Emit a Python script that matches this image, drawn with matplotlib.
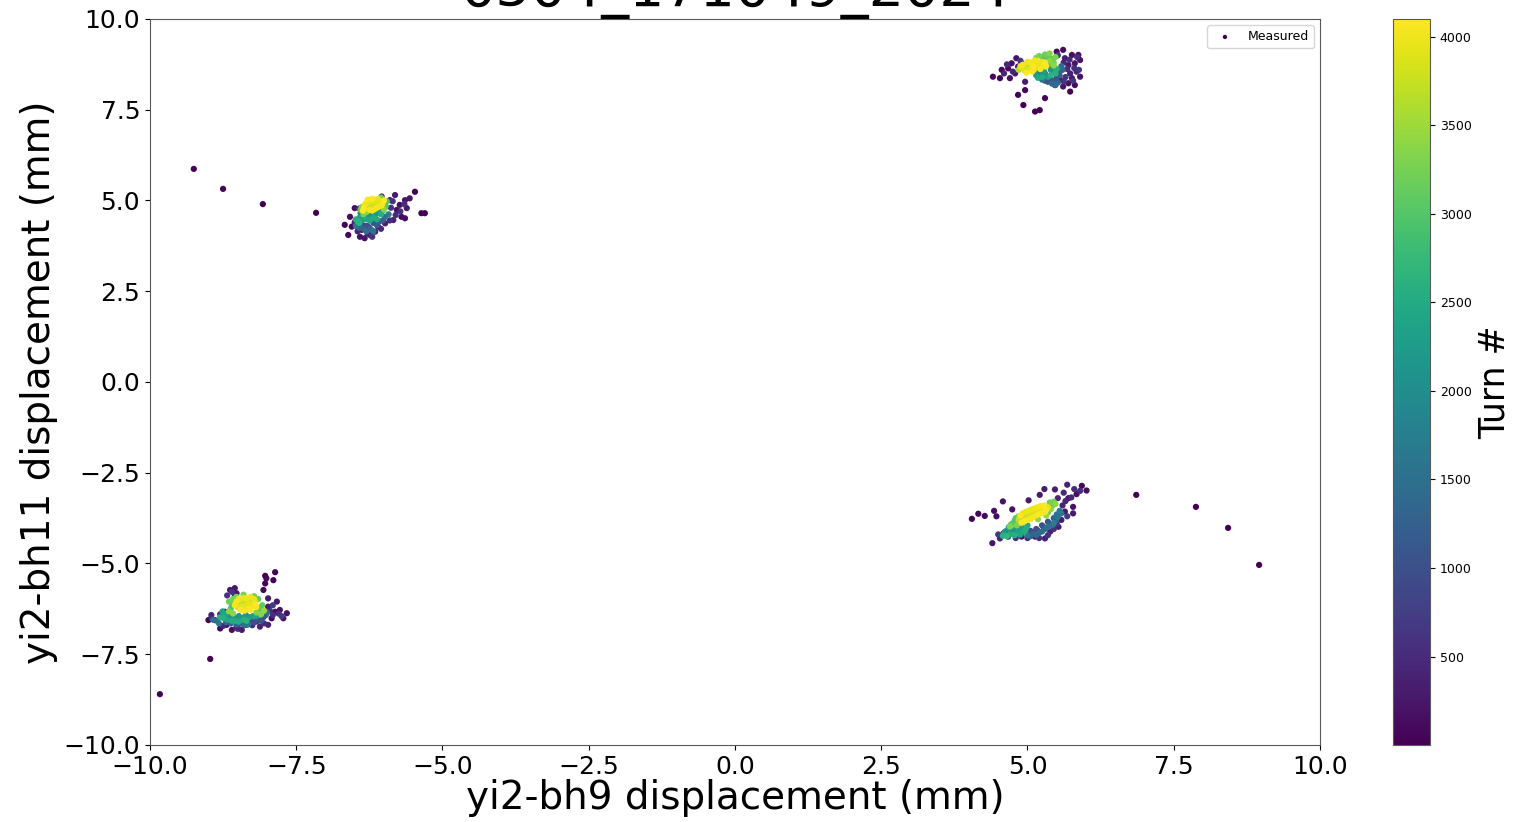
import numpy as np
import matplotlib
matplotlib.use("Agg")
import matplotlib.pyplot as plt

# (x mm, y mm, turn #), one list per cluster
cluster_top_right = [
    # early turns, outer halo
    (4.41, 8.41, 40), (4.53, 8.37, 60), (4.56, 8.60, 90), (4.67, 8.64, 120), (4.70, 8.37, 150),
    (4.73, 8.78, 180), (4.81, 8.92, 210), (4.84, 8.69, 240), (4.79, 8.50, 270), (4.90, 8.78, 300),
    (4.96, 8.27, 330), (4.84, 7.91, 30), (4.96, 8.04, 70), (4.93, 7.63, 20), (5.13, 7.45, 10),
    (5.21, 7.49, 15), (5.30, 7.82, 50), (5.50, 9.10, 110), (5.61, 9.15, 130), (5.76, 9.01, 160),
    (5.87, 9.01, 190), (5.90, 8.87, 220), (5.81, 8.78, 250), (5.70, 8.73, 280), (5.64, 8.92, 310),
    (5.58, 8.60, 340), (5.73, 8.50, 370), (5.84, 8.55, 400), (5.90, 8.41, 200), (5.76, 8.37, 260),
    (5.81, 8.18, 140), (5.70, 8.23, 170), (5.73, 8.00, 80), (5.61, 8.14, 230), (5.56, 8.32, 290),
    (5.47, 8.18, 350), (4.60, 8.50, 420), (4.75, 8.55, 440), (4.65, 8.75, 460), (5.62, 8.80, 480),
    (5.68, 8.62, 500), (5.80, 8.65, 520), (5.72, 8.88, 540), (5.85, 8.95, 560), (5.65, 8.40, 580),
    (5.62, 8.28, 600), (5.78, 8.30, 620), (5.88, 8.60, 640), (5.52, 9.00, 660), (4.88, 8.85, 680),
    # blue
    (5.40, 8.33, 900), (5.50, 8.38, 1000), (5.30, 8.30, 1100), (5.55, 8.55, 1200),
    (5.52, 8.25, 1300), (5.42, 8.22, 1400), (5.58, 8.70, 1500), (5.35, 8.27, 1050),
    (5.45, 8.30, 1150), (5.55, 8.45, 1250), (5.60, 8.60, 1350), (5.48, 8.18, 1450),
    (5.25, 8.33, 1550),
    # teal
    (5.20, 8.55, 1900), (5.30, 8.50, 2000), (5.40, 8.60, 2100), (5.15, 8.45, 2200),
    (5.35, 8.40, 2300), (5.45, 8.68, 2400), (5.25, 8.40, 2500), (5.48, 8.50, 2600),
    (5.22, 8.48, 1950), (5.32, 8.45, 2050), (5.42, 8.55, 2150), (5.38, 8.70, 2250),
    (5.28, 8.58, 2350), (5.18, 8.38, 2450), (5.50, 8.62, 2550), (5.40, 8.45, 2650),
    # green
    (5.25, 8.95, 2900), (5.35, 8.98, 3000), (5.42, 8.90, 3100), (5.30, 9.02, 3200),
    (5.45, 8.80, 3250), (5.15, 8.93, 3300), (5.38, 8.85, 3400), (5.28, 8.90, 2950),
    (5.35, 8.92, 3050), (5.40, 8.78, 3150), (5.20, 8.98, 3230), (5.48, 8.95, 3280),
    (5.38, 9.05, 3350), (5.45, 8.72, 3420), (5.30, 8.68, 3450),
    # yellow core
    (4.90, 8.65, 3700), (5.00, 8.70, 3750), (5.10, 8.75, 3800), (5.20, 8.80, 3850),
    (4.95, 8.58, 3900), (5.05, 8.62, 3920), (5.15, 8.67, 3950), (5.25, 8.72, 3980),
    (5.00, 8.82, 4000), (5.12, 8.86, 4020), (4.92, 8.74, 4040), (5.22, 8.62, 4060),
    (5.30, 8.80, 4080), (5.08, 8.55, 4090), (4.95, 8.66, 3720), (5.05, 8.73, 3770),
    (5.15, 8.78, 3820), (5.25, 8.82, 3870), (5.02, 8.60, 3910), (5.12, 8.62, 3940),
    (5.20, 8.70, 3970), (4.88, 8.70, 3990), (5.05, 8.80, 4010), (5.18, 8.85, 4030),
    (5.28, 8.75, 4050), (4.98, 8.52, 4070), (5.10, 8.70, 4085), (5.32, 8.70, 4095),
    (4.85, 8.60, 3650),
]

cluster_upper_left = [
    (-9.25, 5.87, 2), (-8.75, 5.32, 6), (-8.07, 4.90, 10), (-7.16, 4.66, 14),
    (-6.67, 4.33, 40), (-6.61, 4.05, 60), (-6.55, 4.28, 90), (-6.58, 4.55, 120), (-6.50, 4.79, 150),
    (-6.41, 4.00, 180), (-6.33, 3.96, 210), (-6.38, 4.19, 240), (-6.24, 4.05, 270), (-6.15, 4.14, 300),
    (-6.10, 4.28, 330), (-5.98, 4.37, 360), (-5.84, 4.46, 390), (-5.70, 4.55, 110), (-5.64, 4.51, 130),
    (-5.78, 4.74, 160), (-5.73, 4.88, 190), (-5.64, 5.01, 220), (-5.56, 5.06, 250), (-5.47, 5.24, 30),
    (-5.61, 4.79, 280), (-5.36, 4.65, 20), (-5.30, 4.65, 25), (-5.81, 5.15, 310), (-5.90, 5.01, 340),
    (-6.04, 5.11, 370), (-6.27, 5.01, 400), (-6.45, 4.15, 420), (-6.50, 4.40, 440), (-6.28, 4.08, 460),
    (-6.05, 4.22, 480), (-5.90, 4.45, 500), (-5.80, 4.60, 520), (-5.72, 4.70, 540), (-5.65, 4.90, 560),
    (-5.88, 4.80, 580), (-6.42, 4.78, 600), (-6.20, 4.00, 620), (-5.85, 4.98, 640),
    # blue
    (-6.38, 4.35, 900), (-6.28, 4.30, 1000), (-6.18, 4.38, 1100), (-6.08, 4.42, 1200),
    (-6.35, 4.22, 1300), (-6.22, 4.20, 1400), (-5.98, 4.55, 1500), (-6.48, 4.30, 1600),
    (-5.92, 4.62, 1700), (-6.32, 4.30, 950), (-6.25, 4.25, 1050), (-6.12, 4.32, 1150),
    (-6.02, 4.45, 1250), (-6.42, 4.25, 1350), (-6.30, 4.15, 1450), (-6.18, 4.15, 1550),
    # teal
    (-6.40, 4.65, 1900), (-6.32, 4.58, 2000), (-6.22, 4.60, 2100), (-6.12, 4.65, 2200),
    (-6.02, 4.72, 2300), (-6.42, 4.52, 2400), (-6.30, 4.48, 2450), (-6.18, 4.52, 2500),
    (-6.05, 4.62, 2550), (-6.45, 4.42, 2600), (-6.36, 4.55, 1950), (-6.26, 4.56, 2050),
    (-6.16, 4.58, 2150), (-6.08, 4.66, 2250), (-6.38, 4.46, 2350), (-6.24, 4.45, 2420),
    (-6.12, 4.48, 2480), (-6.48, 4.48, 2580), (-6.42, 4.38, 2650),
    # green
    (-6.00, 4.90, 2900), (-5.95, 4.98, 3000), (-5.98, 4.80, 3100), (-6.05, 5.08, 3200),
    (-6.38, 4.82, 3300), (-6.30, 4.68, 3400), (-5.97, 4.85, 2950), (-6.02, 5.02, 3050),
    (-6.40, 4.74, 3150), (-6.35, 4.62, 3250), (-6.00, 4.75, 3350),
    # yellow core
    (-6.30, 4.78, 3700), (-6.22, 4.84, 3750), (-6.14, 4.90, 3800), (-6.06, 4.96, 3850),
    (-6.25, 4.95, 3900), (-6.17, 5.00, 3920), (-6.10, 5.04, 3950), (-6.33, 4.88, 3980),
    (-6.20, 4.72, 4000), (-6.12, 4.80, 4020), (-6.04, 4.86, 4040), (-6.28, 5.02, 4060),
    (-6.36, 4.72, 4080), (-6.00, 5.00, 4090), (-6.26, 4.81, 3720), (-6.18, 4.87, 3770),
    (-6.10, 4.93, 3820), (-6.02, 4.92, 3870), (-6.21, 4.98, 3910), (-6.14, 5.02, 3940),
    (-6.30, 4.93, 3970), (-6.16, 4.76, 4010), (-6.08, 4.84, 4030), (-6.24, 4.74, 4050),
    (-6.34, 4.80, 4070), (-6.20, 5.05, 4095),
]

cluster_lower_left = [
    (-9.83, -8.60, 1), (-8.97, -7.63, 5),
    (-9.00, -6.56, 40), (-8.89, -6.56, 60), (-8.80, -6.79, 90), (-8.69, -6.69, 120), (-8.60, -6.83, 150),
    (-8.72, -6.33, 180), (-8.63, -5.73, 210), (-8.55, -5.68, 240), (-8.52, -5.82, 270), (-8.43, -6.83, 300),
    (-8.35, -6.69, 330), (-8.12, -6.74, 360), (-7.98, -6.69, 390), (-7.92, -6.51, 110), (-7.86, -6.33, 130),
    (-7.78, -6.28, 160), (-7.66, -6.37, 190), (-7.72, -6.51, 220), (-7.83, -6.05, 250), (-7.98, -5.96, 280),
    (-7.98, -6.19, 310), (-8.06, -5.73, 70), (-8.03, -5.55, 45), (-8.01, -5.41, 35), (-7.89, -5.46, 25),
    (-7.86, -5.24, 18), (-8.03, -5.34, 28), (-8.18, -6.60, 340), (-8.52, -6.74, 370), (-8.95, -6.42, 400),
    (-8.95, -6.50, 420), (-8.75, -6.72, 440), (-8.50, -6.80, 460), (-8.25, -6.70, 480), (-8.05, -6.65, 500),
    (-7.90, -6.42, 520), (-7.80, -6.38, 540), (-7.95, -6.30, 560), (-8.60, -5.78, 580), (-8.55, -5.90, 600),
    (-8.68, -5.88, 620), (-8.80, -6.40, 640), (-7.75, -6.45, 660), (-7.90, -6.15, 680),
    # blue
    (-8.28, -6.58, 900), (-8.16, -6.55, 1000), (-8.06, -6.48, 1100), (-8.62, -6.65, 1200),
    (-8.45, -6.66, 1300), (-8.85, -6.58, 1400), (-8.00, -6.35, 1500), (-8.32, -6.68, 1600),
    (-8.22, -6.62, 950), (-8.10, -6.58, 1050), (-8.02, -6.42, 1150), (-8.70, -6.62, 1250),
    (-8.52, -6.68, 1350), (-8.38, -6.70, 1450), (-8.92, -6.55, 1550), (-8.82, -6.65, 1650),
    # teal
    (-8.70, -6.40, 1900), (-8.60, -6.48, 2000), (-8.48, -6.45, 2100), (-8.36, -6.42, 2200),
    (-8.24, -6.45, 2300), (-8.76, -6.32, 2400), (-8.68, -6.55, 2450), (-8.54, -6.58, 2500),
    (-8.40, -6.55, 2550), (-8.80, -6.48, 2600), (-8.65, -6.45, 1950), (-8.55, -6.50, 2050),
    (-8.42, -6.50, 2150), (-8.30, -6.48, 2250), (-8.18, -6.45, 2350), (-8.72, -6.40, 2420),
    (-8.60, -6.58, 2480), (-8.48, -6.60, 2530), (-8.75, -6.50, 2580), (-8.35, -6.58, 2650),
    # green
    (-8.62, -6.25, 2900), (-8.15, -6.30, 3000), (-8.08, -6.15, 3100), (-8.65, -6.05, 3200),
    (-8.22, -5.90, 3250), (-8.52, -5.92, 3300), (-8.10, -6.40, 3350), (-8.58, -6.38, 3400),
    (-8.60, -6.15, 2950), (-8.12, -6.22, 3050), (-8.15, -5.98, 3150), (-8.58, -5.98, 3220),
    (-8.40, -5.86, 3280), (-8.18, -6.35, 3320), (-8.65, -6.32, 3380), (-8.05, -6.30, 3450),
    # yellow core
    (-8.50, -6.10, 3700), (-8.40, -6.05, 3750), (-8.30, -6.00, 3800), (-8.20, -6.05, 3850),
    (-8.45, -6.20, 3900), (-8.35, -6.15, 3920), (-8.25, -6.18, 3950), (-8.40, -5.95, 3980),
    (-8.28, -5.92, 4000), (-8.55, -6.15, 4020), (-8.18, -6.20, 4040), (-8.32, -6.25, 4060),
    (-8.45, -6.28, 4090), (-8.45, -6.02, 3720), (-8.35, -6.08, 3770), (-8.25, -6.10, 3820),
    (-8.50, -6.20, 3870), (-8.40, -6.22, 3910), (-8.30, -6.12, 3940), (-8.22, -5.98, 3970),
    (-8.35, -5.96, 4010), (-8.48, -5.98, 4030), (-8.52, -6.05, 4050), (-8.20, -6.12, 4070),
    (-8.38, -6.30, 4080), (-8.28, -6.28, 4095),
]

cluster_lower_right = [
    (8.96, -5.04, 3), (8.43, -4.02, 7), (7.88, -3.44, 11), (6.86, -3.11, 15),
    (4.05, -3.77, 40), (4.16, -3.63, 60), (4.27, -3.69, 90), (4.43, -3.55, 120), (4.47, -3.70, 150),
    (4.74, -3.51, 180), (4.58, -3.29, 210), (4.40, -4.44, 240), (5.02, -3.26, 270), (5.21, -3.11, 300),
    (5.29, -2.95, 330), (5.47, -2.96, 360), (5.68, -2.83, 390), (5.93, -2.86, 110), (6.01, -2.99, 130),
    (5.84, -3.09, 160), (5.70, -3.20, 190), (5.78, -3.44, 220), (5.64, -3.57, 250), (5.78, -3.62, 280),
    (5.58, -3.80, 310), (5.53, -3.99, 340), (5.39, -4.12, 370), (5.30, -4.31, 400), (5.13, -4.26, 200),
    (4.90, -4.26, 260), (4.67, -4.26, 320), (4.53, -4.31, 380), (4.59, -4.17, 230),
    (5.60, -3.40, 420), (5.65, -3.28, 440), (5.75, -3.18, 460), (5.52, -3.20, 480), (5.62, -3.05, 500),
    (5.80, -2.95, 520), (5.90, -3.00, 540), (5.45, -4.05, 560), (5.35, -4.22, 580), (5.20, -4.30, 600),
    (5.00, -4.30, 620), (4.80, -4.30, 640), (5.50, -3.90, 660), (5.68, -3.70, 680), (4.50, -4.20, 700),
    # blue
    (5.05, -4.10, 900), (5.15, -4.05, 950), (5.25, -3.95, 1000), (5.35, -3.85, 1100),
    (5.45, -3.75, 1200), (5.10, -4.18, 1250), (5.20, -4.15, 1300), (5.30, -4.05, 1400),
    (5.42, -3.95, 1500), (5.50, -3.65, 1550), (5.00, -4.22, 1600), (5.55, -3.55, 1700),
    (5.08, -4.14, 920), (5.18, -4.10, 980), (5.28, -4.00, 1050), (5.38, -3.90, 1150),
    (5.48, -3.82, 1220), (5.05, -4.25, 1280), (5.15, -4.22, 1350), (5.25, -4.12, 1450),
    (5.35, -4.00, 1520), (5.52, -3.72, 1580), (5.58, -3.62, 1650), (5.45, -3.88, 1720),
    # teal
    (4.65, -4.10, 1900), (4.72, -4.15, 2000), (4.80, -4.05, 2100), (4.90, -4.00, 2200),
    (4.60, -4.18, 2250), (4.85, -4.15, 2300), (5.00, -3.95, 2400), (4.68, -4.00, 2450),
    (4.95, -4.12, 2500), (4.78, -4.22, 2600), (4.62, -4.12, 1950), (4.70, -4.08, 2050),
    (4.76, -4.12, 2150), (4.84, -4.08, 2280), (4.92, -4.06, 2350), (4.88, -4.20, 2420),
    (4.70, -4.20, 2480), (4.98, -4.03, 2550), (4.58, -4.24, 2620), (4.65, -4.25, 2680),
    # green
    (4.75, -3.90, 2900), (4.80, -3.75, 3000), (5.40, -3.38, 3100), (5.45, -3.30, 3200),
    (5.35, -3.60, 3250), (4.70, -3.98, 3300), (5.18, -3.78, 3350), (5.40, -3.50, 3400),
    (4.78, -3.82, 2950), (4.72, -3.92, 3050), (5.42, -3.42, 3150), (5.38, -3.32, 3220),
    (4.85, -3.70, 3280), (4.82, -3.95, 3320), (5.48, -3.36, 3380), (5.32, -3.68, 3450),
    # yellow core
    (4.85, -3.80, 3700), (4.95, -3.72, 3750), (5.05, -3.66, 3800), (5.15, -3.58, 3850),
    (5.25, -3.50, 3900), (5.35, -3.45, 3920), (4.92, -3.62, 3950), (5.02, -3.55, 3980),
    (5.12, -3.48, 4000), (5.22, -3.42, 4020), (5.00, -3.80, 4040), (5.10, -3.72, 4060),
    (5.20, -3.64, 4070), (5.30, -3.58, 4080), (4.90, -3.88, 4085), (5.28, -3.40, 4090),
    (4.90, -3.76, 3720), (5.00, -3.69, 3770), (5.10, -3.62, 3820), (5.20, -3.54, 3870),
    (5.30, -3.48, 3910), (4.97, -3.58, 3940), (5.07, -3.51, 3970), (5.17, -3.45, 4010),
    (5.05, -3.77, 4030), (5.15, -3.68, 4050), (5.25, -3.61, 4075), (4.88, -3.68, 4088),
    (5.32, -3.52, 4093), (4.95, -3.84, 4095),
]

title = "0504_171049_2024"
n_turns = 4100

pts = np.array(cluster_top_right + cluster_upper_left + cluster_lower_left + cluster_lower_right)
order = np.argsort(pts[:, 2], kind="stable")  # later turns drawn on top
x, y, turn = pts[order, 0], pts[order, 1], pts[order, 2]

fig = plt.figure(figsize=(15.13, 8.22), dpi=100)
ax = fig.add_axes([0.0991, 0.0937, 0.7733, 0.8832])
cax = fig.add_axes([0.9207, 0.0937, 0.0245, 0.8832])

sc = ax.scatter(x, y, c=turn, cmap="viridis", vmin=1, vmax=n_turns, s=20,
                linewidths=0, label="Measured")
ax.set_xlim(-10, 10)
ax.set_ylim(-10, 10)
ax.set_xlabel("yi2-bh9 displacement (mm)", fontsize=28, labelpad=0)
ax.set_ylabel("yi2-bh11 displacement (mm)", fontsize=28)
ax.set_title(title, fontsize=40, pad=7)
ax.tick_params(labelsize=18)
for sp in ax.spines.values():
    sp.set_color("0.35")
ax.legend(loc="upper right", fontsize=9, markerscale=0.7)

cb = fig.colorbar(sc, cax=cax)
cb.set_label("Turn #", fontsize=25)
cb.ax.tick_params(labelsize=9)
cb.outline.set_edgecolor("0.35")

fig.savefig("out.png", dpi=100)
